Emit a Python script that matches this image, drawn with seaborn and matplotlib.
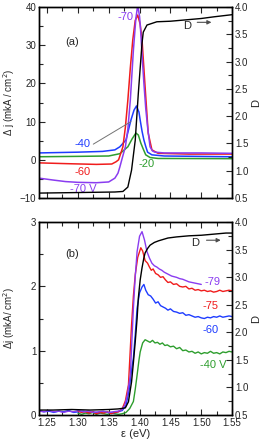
import matplotlib
matplotlib.use('Agg')
import matplotlib.pyplot as plt
from matplotlib.ticker import MultipleLocator
import seaborn as sns

sns.set_style('ticks')
plt.rcParams['font.family'] = ['Liberation Sans', 'DejaVu Sans']
plt.rcParams['font.size'] = 7
plt.rcParams['xtick.direction'] = 'in'
plt.rcParams['ytick.direction'] = 'in'

PURPLE = '#8a3cf0'
RED = '#f01c1c'
BLUE = '#1e3cff'
GREEN = '#2e9e2e'

# ---------- panel (a): delta j, mkA/cm^2 ----------
a_x_m70 = [1.237, 1.26, 1.28, 1.30, 1.33, 1.35, 1.36, 1.365, 1.368, 1.372, 1.377,
           1.381, 1.385, 1.390, 1.394, 1.397, 1.400, 1.402, 1.405, 1.407, 1.410,
           1.413, 1.417, 1.421, 1.425, 1.44, 1.50, 1.55]
a_y_m70 = [-4.8, -5.3, -5.7, -5.9, -6.0, -5.8, -4.8, -3.5, -1.9, 0.5, 3.4,
           8.0, 15.6, 28.7, 37.0, 40.5, 37.5, 33.2, 25.0, 20.1, 13.5,
           8.6, 3.4, 2.3, 2.0, 1.8, 1.8, 1.7]

a_x_m60 = [1.237, 1.28, 1.33, 1.355, 1.362, 1.366, 1.373, 1.377, 1.381, 1.385,
           1.389, 1.393, 1.397, 1.401, 1.404, 1.409, 1.414, 1.420, 1.43, 1.48, 1.55]
a_y_m60 = [-0.8, -1.0, -1.2, -1.1, -0.5, 0.0, 3.4, 8.5, 15.6, 24.0,
           31.4, 36.5, 37.9, 35.5, 31.4, 19.0, 7.0, 2.6, 1.7, 1.5, 1.5]

a_x_m40 = [1.237, 1.30, 1.34, 1.36, 1.368, 1.378, 1.386, 1.391, 1.395, 1.399,
           1.401, 1.404, 1.407, 1.410, 1.413, 1.42, 1.44, 1.55]
a_y_m40 = [1.8, 2.0, 2.2, 2.6, 3.4, 5.2, 10.4, 13.0, 14.1, 12.5,
           10.4, 7.5, 5.2, 3.5, 2.0, 1.3, 1.0, 0.8]

a_x_m20 = [1.237, 1.30, 1.35, 1.368, 1.381, 1.388, 1.394, 1.398, 1.402, 1.406,
           1.410, 1.417, 1.43, 1.55]
a_y_m20 = [0.8, 0.9, 1.0, 1.6, 3.4, 5.5, 7.0, 6.5, 4.4, 2.8,
           1.3, 0.6, 0.35, 0.3]

a_x_D = [1.237, 1.30, 1.36, 1.373, 1.381, 1.387, 1.393, 1.398, 1.404, 1.406,
         1.412, 1.428, 1.45, 1.47, 1.50, 1.52, 1.55]
a_y_D = [0.59, 0.60, 0.61, 0.62, 0.70, 1.01, 1.56, 2.42, 3.34, 3.54,
         3.67, 3.73, 3.74, 3.76, 3.79, 3.82, 3.86]

# ---------- panel (b) ----------
b_x_m79 = [1.237, 1.245, 1.253, 1.261, 1.269, 1.277, 1.285, 1.293, 1.301, 1.309,
           1.317, 1.325, 1.333, 1.341, 1.349, 1.357, 1.365, 1.371, 1.376, 1.380,
           1.385, 1.390, 1.393, 1.396, 1.400, 1.404, 1.408, 1.412, 1.416, 1.420,
           1.424, 1.428, 1.432, 1.436, 1.440, 1.444, 1.448, 1.452, 1.456, 1.460,
           1.465, 1.470, 1.475, 1.480, 1.485, 1.490, 1.495, 1.500]
b_y_m79 = [0.06, 0.05, 0.07, 0.05, 0.06, 0.04, 0.06, 0.05, 0.07, 0.05,
           0.06, 0.04, 0.05, 0.06, 0.04, 0.05, 0.06, 0.08, 0.15, 0.30,
           0.62, 1.66, 2.15, 2.54, 2.78, 2.85, 2.72, 2.54, 2.44, 2.36,
           2.32, 2.30, 2.27, 2.25, 2.22, 2.20, 2.18, 2.16, 2.15, 2.14,
           2.12, 2.11, 2.09, 2.07, 2.06, 2.05, 2.04, 2.03]

b_x_m75 = [1.300, 1.306, 1.312, 1.318, 1.324, 1.330, 1.336, 1.342, 1.348, 1.354,
           1.360, 1.366, 1.372, 1.377, 1.382, 1.387, 1.390, 1.393, 1.397, 1.402,
           1.405, 1.409, 1.413, 1.416, 1.419, 1.422, 1.426, 1.430, 1.434, 1.438,
           1.442, 1.446, 1.450, 1.455, 1.460, 1.465, 1.470, 1.475, 1.480, 1.485,
           1.490, 1.495, 1.500, 1.505, 1.510, 1.515, 1.520, 1.525, 1.530, 1.535,
           1.540, 1.545, 1.550]
b_y_m75 = [0.06, 0.04, 0.05, 0.03, 0.05, 0.02, 0.04, 0.03, 0.05, 0.02,
           0.04, 0.05, 0.10, 0.22, 0.47, 1.40, 1.85, 2.18, 2.45, 2.60,
           2.55, 2.40, 2.36, 2.30, 2.25, 2.27, 2.20, 2.18, 2.14, 2.15,
           2.10, 2.06, 2.07, 2.03, 2.04, 2.00, 1.99, 2.00, 1.96, 1.97,
           1.94, 1.95, 1.93, 1.94, 1.92, 1.93, 1.91, 1.92, 1.94, 1.92,
           1.93, 1.94, 1.93]

b_x_m60 = [1.237, 1.245, 1.253, 1.261, 1.269, 1.277, 1.285, 1.293, 1.301, 1.309,
           1.317, 1.325, 1.333, 1.341, 1.349, 1.357, 1.365, 1.372, 1.378, 1.383,
           1.387, 1.390, 1.393, 1.396, 1.400, 1.404, 1.407, 1.410, 1.414, 1.418,
           1.422, 1.426, 1.430, 1.434, 1.438, 1.442, 1.446, 1.450, 1.455, 1.460,
           1.465, 1.470, 1.475, 1.480, 1.485, 1.490, 1.495, 1.500, 1.505, 1.510,
           1.515, 1.520, 1.525, 1.530, 1.535, 1.540, 1.545, 1.550]
b_y_m60 = [0.07, 0.05, 0.06, 0.04, 0.06, 0.05, 0.07, 0.04, 0.05, 0.06,
           0.04, 0.05, 0.03, 0.05, 0.04, 0.03, 0.05, 0.07, 0.15, 0.38,
           0.70, 0.89, 1.25, 1.66, 1.90, 1.99, 2.03, 1.94, 1.87, 1.85,
           1.80, 1.74, 1.76, 1.70, 1.68, 1.66, 1.63, 1.65, 1.61, 1.60,
           1.58, 1.59, 1.55, 1.56, 1.54, 1.52, 1.53, 1.51, 1.50, 1.52,
           1.51, 1.53, 1.52, 1.54, 1.52, 1.53, 1.54, 1.53]

b_x_m40 = [1.300, 1.306, 1.312, 1.318, 1.324, 1.330, 1.336, 1.342, 1.348, 1.354,
           1.360, 1.366, 1.372, 1.378, 1.384, 1.390, 1.393, 1.396, 1.399, 1.401,
           1.405, 1.409, 1.413, 1.417, 1.421, 1.425, 1.429, 1.433, 1.437, 1.441,
           1.445, 1.450, 1.455, 1.460, 1.465, 1.470, 1.475, 1.480, 1.485, 1.490,
           1.495, 1.500, 1.505, 1.510, 1.515, 1.520, 1.525, 1.530, 1.535, 1.540,
           1.545, 1.550]
b_y_m40 = [0.03, 0.01, 0.03, 0.02, 0.04, 0.01, 0.03, 0.02, 0.01, 0.03,
           0.02, 0.01, 0.02, 0.04, 0.10, 0.21, 0.40, 0.62, 0.85, 0.98,
           1.12, 1.17, 1.15, 1.13, 1.16, 1.12, 1.13, 1.10, 1.12, 1.08,
           1.09, 1.06, 1.07, 1.03, 1.05, 1.00, 1.01, 0.98, 0.99, 0.96,
           0.98, 0.95, 0.97, 0.96, 0.99, 0.96, 0.97, 0.95, 0.98, 0.97,
           0.99, 0.98]

b_x_D = [1.237, 1.26, 1.29, 1.32, 1.35, 1.365, 1.372, 1.377, 1.382, 1.387,
         1.390, 1.393, 1.396, 1.398, 1.401, 1.404, 1.407, 1.409, 1.413, 1.417,
         1.424, 1.431, 1.446, 1.46, 1.48, 1.50, 1.52, 1.54, 1.55]
b_y_D = [0.59, 0.59, 0.60, 0.59, 0.60, 0.61, 0.62, 0.63, 0.74, 1.10,
         1.45, 1.83, 2.25, 2.62, 2.95, 3.17, 3.35, 3.44, 3.52, 3.58,
         3.63, 3.66, 3.71, 3.73, 3.75, 3.76, 3.78, 3.80, 3.80]

fig = plt.figure(figsize=(2.66, 4.40), dpi=100)
ax_a = fig.add_axes([0.1466, 0.55, 0.726, 0.434])
ax_b = fig.add_axes([0.1466, 0.0568, 0.726, 0.4386])


def draw(ax, x, y, color, lw=1.1):
    sns.lineplot(x=x, y=y, ax=ax, color=color, lw=lw, sort=False,
                 estimator=None, legend=False)


# panel (a)
for xs, ys, c in [(a_x_m20, a_y_m20, GREEN), (a_x_m40, a_y_m40, BLUE),
                  (a_x_m60, a_y_m60, RED), (a_x_m70, a_y_m70, PURPLE)]:
    draw(ax_a, xs, ys, c)
ax_a2 = ax_a.twinx()
draw(ax_a2, a_x_D, a_y_D, 'black', lw=1.0)

# panel (b)
for xs, ys, c in [(b_x_m40, b_y_m40, GREEN), (b_x_m60, b_y_m60, BLUE),
                  (b_x_m75, b_y_m75, RED), (b_x_m79, b_y_m79, PURPLE)]:
    draw(ax_b, xs, ys, c, lw=1.0)
ax_b2 = ax_b.twinx()
draw(ax_b2, b_x_D, b_y_D, 'black', lw=1.0)

for ax in (ax_a, ax_b):
    ax.set_xlim(1.237, 1.55)
    ax.xaxis.set_major_locator(MultipleLocator(0.05))
    ax.xaxis.set_minor_locator(MultipleLocator(0.025))
    ax.tick_params(axis='x', which='both', top=True, bottom=True)
    ax.tick_params(which='major', length=4, width=0.8, labelsize=7, pad=2)
    ax.tick_params(which='minor', length=3, width=0.8)
for ax in (ax_a2, ax_b2):
    ax.set_ylim(0.5, 4.0)
    ax.yaxis.set_major_locator(MultipleLocator(0.5))
    ax.yaxis.set_minor_locator(MultipleLocator(0.25))
    ax.tick_params(which='major', length=4, width=0.8, labelsize=7, pad=2)
    ax.tick_params(which='minor', length=3, width=0.8)
    ax.set_ylabel('D', fontsize=8)
    ax.yaxis.set_label_coords(1.10, 0.5)
    ax.set_xlabel(None)

for ax in (ax_a, ax_b, ax_a2, ax_b2):
    for s in ax.spines.values():
        s.set_linewidth(1.0)
        s.set_color('black')

ax_a.set_ylim(-10, 40)
ax_a.yaxis.set_major_locator(MultipleLocator(10))
ax_a.yaxis.set_minor_locator(MultipleLocator(5))
ax_a.set_xticklabels([])
ax_a.set_ylabel('Δ j (mkA / cm$^2$)', fontsize=7)
ax_a.yaxis.set_label_coords(-0.115, 0.5)

ax_b.set_ylim(0, 3)
ax_b.yaxis.set_major_locator(MultipleLocator(1))
ax_b.yaxis.set_minor_locator(MultipleLocator(0.5))
ax_b.set_ylabel('Δj (mkA/ cm$^2$)', fontsize=7)
ax_b.yaxis.set_label_coords(-0.115, 0.5)
ax_b.set_xlabel('ε (eV)', fontsize=8, labelpad=1)

# annotations (a)
ax_a.text(1.291, 30.8, '(a)', fontsize=8, ha='center', va='center')
ax_a.text(1.377, 37.4, '-70', color=PURPLE, fontsize=8, ha='center', va='center')
ax_a.text(1.308, 4.1, '-40', color=BLUE, fontsize=8, ha='center', va='center')
ax_a.plot([1.325, 1.386], [4.1, 10.0], color='0.45', lw=0.7)
ax_a.text(1.307, -3.2, '-60', color=RED, fontsize=8, ha='center', va='center')
ax_a.text(1.412, -1.1, '-20', color=GREEN, fontsize=8, ha='center', va='center')
ax_a.text(1.308, -7.6, '-70 V', color=PURPLE, fontsize=8, ha='center', va='center')
ax_a2.text(1.477, 3.65, 'D', fontsize=8, ha='center', va='center')
ax_a2.annotate('', xy=(1.521, 3.72), xytext=(1.489, 3.72),
               arrowprops=dict(arrowstyle='-|>', color='0.3', lw=0.8,
                               mutation_scale=6))

# annotations (b)
ax_b.text(1.291, 2.51, '(b)', fontsize=8, ha='center', va='center')
ax_b.text(1.518, 2.07, '-79', color=PURPLE, fontsize=8, ha='center', va='center')
ax_b.text(1.515, 1.69, '-75', color=RED, fontsize=8, ha='center', va='center')
ax_b.text(1.515, 1.32, '-60', color=BLUE, fontsize=8, ha='center', va='center')
ax_b.text(1.520, 0.78, '-40 V', color=GREEN, fontsize=8, ha='center', va='center')
ax_b2.text(1.490, 3.62, 'D', fontsize=8, ha='center', va='center')
ax_b2.annotate('', xy=(1.536, 3.67), xytext=(1.504, 3.67),
               arrowprops=dict(arrowstyle='-|>', color='0.3', lw=0.8,
                               mutation_scale=6))

fig.savefig('out.png', dpi=100)
